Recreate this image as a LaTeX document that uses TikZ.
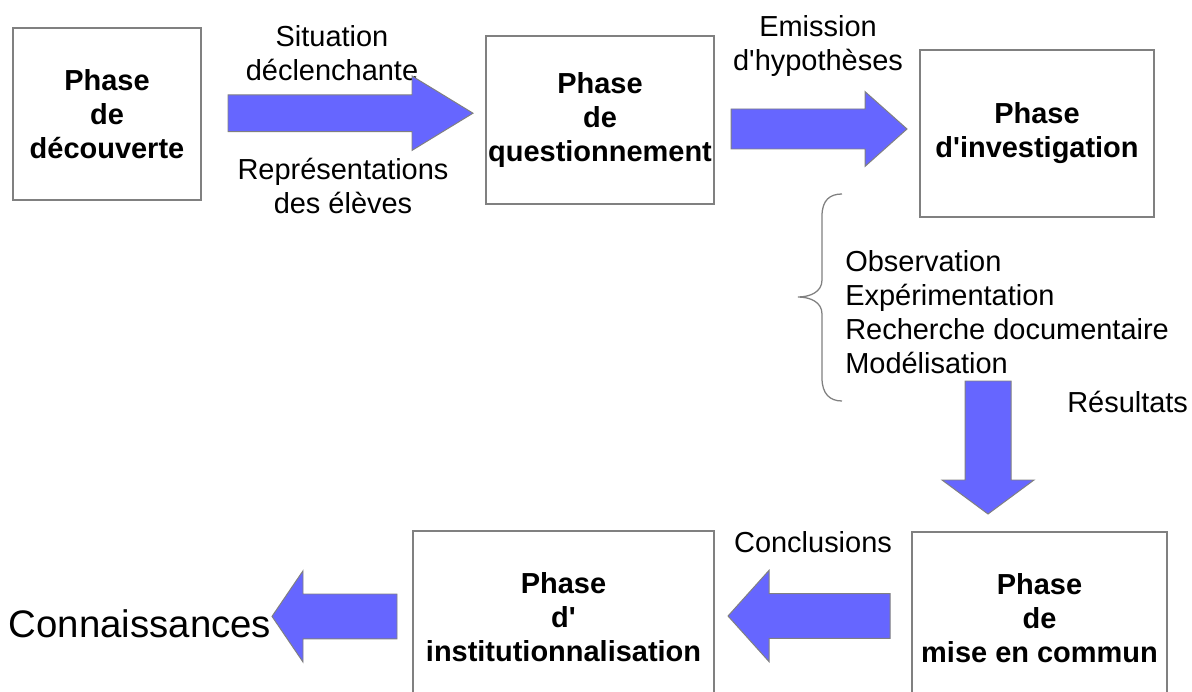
\documentclass[tikz,border=0pt]{standalone}
\usepackage{fontspec}
\setmainfont{Liberation Sans}
\definecolor{arrowblue}{HTML}{6666FF}
\definecolor{framegray}{HTML}{808080}
\tikzset{
  phase/.style={draw=framegray, line width=1pt, align=center, inner sep=0pt, font=\fontsize{20.6}{24.2}\selectfont\bfseries},
  note/.style={align=center, inner sep=0pt, font=\fontsize{20.6}{24.2}\selectfont},
  bigarrow/.style={draw=framegray, fill=arrowblue, line width=0.7pt, line join=miter},
  bracket/.style={draw=framegray, line width=0.9pt},
}
\begin{document}
\begin{tikzpicture}
\useasboundingbox (0,0) rectangle (29.8,-17.3);
\node[phase, minimum width=4.7cm, minimum height=4.3cm] (decouverte) at (2.675,-2.85) {Phase\\de\\découverte};
\node[phase, minimum width=5.7cm, minimum height=4.2cm] (questionnement) at (15.0,-3.0) {Phase\\de\\questionnement};
\node[phase, minimum width=5.85cm, minimum height=4.175cm] (investigation) at (25.925,-3.3375) {Phase\\d\textquotesingle investigation};
\node[phase, minimum width=6.375cm, minimum height=4.3cm] (miseencommun) at (25.9875,-15.45) {Phase\\de\\mise en commun};
\node[phase, minimum width=7.525cm, minimum height=4.325cm] (institution) at (14.0875,-15.4375) {Phase\\d\textquotesingle\\institutionnalisation};
\node[note] (situation) at (8.3,-1.34) {Situation\\déclenchante};
\node[note] (representations) at (8.575,-4.66) {Représentations\\des élèves};
\node[note] (emission) at (20.45,-1.15) {Emission\\d\textquotesingle hypothèses};
\node[note, anchor=west, align=left] (methodes) at (21.125,-7.8) {Observation\\Expérimentation\\Recherche documentaire\\Modélisation};
\node[note] (resultats) at (28.19,-10.05) {Résultats};
\node[note] (conclusions) at (20.325,-13.55) {Conclusions};
\node[note, font=\fontsize{27.3}{32}\selectfont] (connaissances) at (3.5,-15.6) {Connaissances};
\draw[bigarrow] (5.7,-2.37) -- (10.3,-2.37) -- (10.3,-1.9) -- (11.825,-2.83) -- (10.3,-3.76) -- (10.3,-3.29) -- (5.7,-3.29) -- cycle;
\draw[bigarrow] (18.275,-2.725) -- (21.625,-2.725) -- (21.625,-2.29) -- (22.675,-3.225) -- (21.625,-4.16) -- (21.625,-3.725) -- (18.275,-3.725) -- cycle;
\draw[bigarrow] (24.125,-9.525) -- (25.275,-9.525) -- (25.275,-12.0) -- (25.85,-12.0) -- (24.7,-12.85) -- (23.55,-12.0) -- (24.125,-12.0) -- cycle;
\draw[bigarrow] (22.25,-14.84) -- (19.225,-14.84) -- (19.225,-14.26) -- (18.2,-15.4) -- (19.225,-16.54) -- (19.225,-15.96) -- (22.25,-15.96) -- cycle;
\draw[bigarrow] (9.925,-14.85) -- (7.575,-14.85) -- (7.575,-14.27) -- (6.8,-15.41) -- (7.575,-16.55) -- (7.575,-15.97) -- (9.925,-15.97) -- cycle;
\draw[bracket] (21.05,-4.85) .. controls (20.75,-4.85) and (20.55,-5.0) .. (20.55,-5.4) -- (20.55,-7.0) .. controls (20.55,-7.3) and (20.25,-7.425) .. (19.95,-7.425) .. controls (20.25,-7.425) and (20.55,-7.55) .. (20.55,-7.85) -- (20.55,-9.45) .. controls (20.55,-9.85) and (20.75,-10.025) .. (21.05,-10.025);
\end{tikzpicture}
\end{document}
